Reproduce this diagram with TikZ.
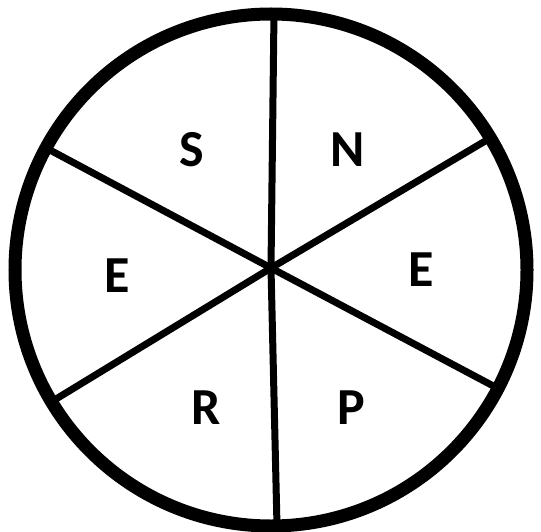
\documentclass[tikz,border=0pt]{standalone}
\usepackage{fontspec}
\setmainfont{Carlito}
\begin{document}
\begin{tikzpicture}[x=1pt,y=-1pt,
  rim/.style={line width=13pt},
  spoke/.style={line width=7pt},
  lbl/.style={font=\fontsize{52}{52}\selectfont\bfseries, inner sep=0pt, anchor=center}]
\useasboundingbox (0,0) rectangle (541,532);
\coordinate (c) at (271,268);
\coordinate (t) at (274,12);
\coordinate (b) at (277,526);
\coordinate (ul) at (48,149);
\coordinate (ur) at (492,137);
\coordinate (ll) at (56,399);
\coordinate (lr) at (499,389);
\draw[spoke] (t) -- (c) -- (b);
\draw[spoke] (ul) -- (c) -- (lr);
\draw[spoke] (ur) -- (c) -- (ll);
\draw[rim] (271,270) ellipse (256 and 256);
\node[lbl] (s) at (192,150) {S};
\node[lbl] (n) at (348,150) {N};
\node[lbl] (e1) at (117,276) {E};
\node[lbl] (e2) at (421,270) {E};
\node[lbl] (r) at (206,408) {R};
\node[lbl] (p) at (351,408) {P};
\end{tikzpicture}
\end{document}
